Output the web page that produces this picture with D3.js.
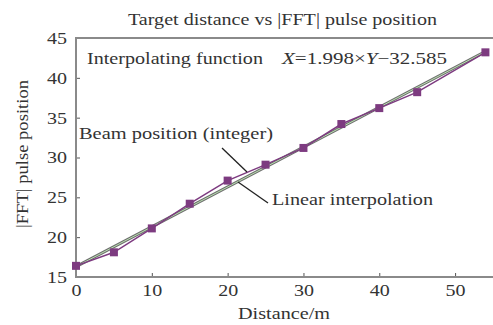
<!DOCTYPE html>
<html>
<head>
<meta charset="utf-8">
<script src="https://cdn.jsdelivr.net/npm/d3@7"></script>
<style>
  body { margin: 0; background: #fff; }
  text { font-family: "Liberation Serif", "DejaVu Serif", serif; fill: #333; }
</style>
</head>
<body>
<div id="chart"></div>
<script>
(function () {
  const distance = [0, 5, 10, 15, 20, 25, 30, 35, 40, 45, 54];
  const pulse = [16.4, 18.1, 21.1, 24.2, 27.1, 29.1, 31.2, 34.2, 36.2, 38.2, 43.2];
  const fitX = [0, 54];
  const fitY = [16.3, 43.3];
  const xTicks = [0, 10, 20, 30, 40, 50];
  const yTicks = [15, 20, 25, 30, 35, 40, 45];

  const W = 493, H = 325;
  const margin = { top: 38, right: 0, bottom: 48, left: 76 };
  const w = W - margin.left - margin.right;
  const h = H - margin.top - margin.bottom;

  const svg = d3.select("#chart").append("svg")
    .attr("width", W)
    .attr("height", H);

  const plot = svg.append("g")
    .attr("transform", `translate(${margin.left},${margin.top})`);

  const x = d3.scaleLinear().domain([0, 55]).range([0, w]);
  const y = d3.scaleLinear().domain([15, 45]).range([h, 0]);

  // the reference text is a bit wide, so stretch glyphs to the measured widths
  const stretch = (sel, len) => sel
    .attr("textLength", len)
    .attr("lengthAdjust", "spacingAndGlyphs");

  const styleTicks = g => {
    g.select(".domain").remove();
    g.selectAll(".tick line").attr("stroke", "#555");
    g.selectAll(".tick text")
      .attr("fill", "#333")
      .style("font-family", "Liberation Serif")
      .style("font-size", "17px")
      .attr("textLength", d => String(d).length * 10)
      .attr("lengthAdjust", "spacingAndGlyphs");
  };

  plot.append("g")
    .attr("transform", `translate(0,${h})`)
    .call(d3.axisBottom(x).tickValues(xTicks).tickSize(-4).tickPadding(7))
    .call(styleTicks);

  plot.append("g")
    .call(d3.axisLeft(y).tickValues(yTicks).tickSize(-4).tickPadding(9))
    .call(styleTicks);

  // frame: top, left, bottom (open on the right)
  plot.append("path")
    .attr("d", `M${w},0H0V${h}H${w}`)
    .attr("fill", "none")
    .attr("stroke", "#8a8a8a")
    .attr("stroke-width", 2);

  const line = d3.line().x(d => x(d[0])).y(d => y(d[1]));

  // linear interpolation: gray outline with a light green core
  const fitData = fitX.map((d, i) => [d, fitY[i]]);
  plot.append("path").datum(fitData)
    .attr("d", line).attr("fill", "none")
    .attr("stroke", "#6e6e6e").attr("stroke-width", 3);
  plot.append("path").datum(fitData)
    .attr("d", line).attr("fill", "none")
    .attr("stroke", "#b9e0b0").attr("stroke-width", 1);

  // beam position (integer)
  const beam = distance.map((d, i) => [d, pulse[i]]);
  plot.append("path").datum(beam)
    .attr("d", line).attr("fill", "none")
    .attr("stroke", "#7d3b80").attr("stroke-width", 1.5);
  plot.selectAll(".pt").data(beam).join("rect")
    .attr("class", "pt")
    .attr("x", d => x(d[0]) - 4)
    .attr("y", d => y(d[1]) - 4)
    .attr("width", 8).attr("height", 8)
    .attr("fill", "#7d3b80");

  // leader lines
  plot.append("line")
    .attr("x1", 146).attr("y1", 110).attr("x2", 171).attr("y2", 134)
    .attr("stroke", "#222").attr("stroke-width", 1.3);
  plot.append("line")
    .attr("x1", 162).attr("y1", 144).attr("x2", 192).attr("y2", 165)
    .attr("stroke", "#222").attr("stroke-width", 1.3);

  plot.append("text").attr("x", 3).attr("y", 101)
    .style("font-size", "17px").call(stretch, 194)
    .text("Beam position (integer)");
  plot.append("text").attr("x", 196).attr("y", 167)
    .style("font-size", "17px").call(stretch, 161)
    .text("Linear interpolation");

  plot.append("text").attr("x", 11).attr("y", 26)
    .style("font-size", "17px").call(stretch, 176)
    .text("Interpolating function");

  const fn = plot.append("text").attr("x", 206).attr("y", 26)
    .style("font-size", "17px").call(stretch, 165);
  fn.append("tspan").style("font-style", "italic").text("X");
  fn.append("tspan").text("=1.998×");
  fn.append("tspan").style("font-style", "italic").text("Y");
  fn.append("tspan").text("−32.585");

  svg.append("text")
    .attr("x", 282.5).attr("y", 25)
    .attr("text-anchor", "middle")
    .style("font-size", "16px").call(stretch, 309)
    .text("Target distance vs |FFT| pulse position");

  svg.append("text")
    .attr("x", 284).attr("y", 319)
    .attr("text-anchor", "middle")
    .style("font-size", "17px").call(stretch, 92)
    .text("Distance/m");

  svg.append("text")
    .attr("transform", "translate(28,154) rotate(-90)")
    .attr("text-anchor", "middle")
    .style("font-size", "17px").call(stretch, 148)
    .text("|FFT| pulse position");
})();
</script>
</body>
</html>
